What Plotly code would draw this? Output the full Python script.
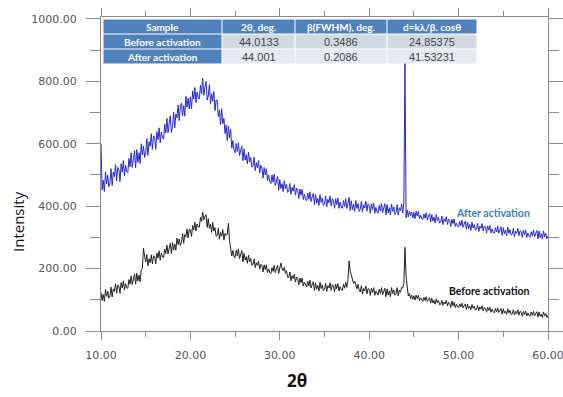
import numpy as np
import plotly.graph_objects as go

# 2-theta grid (0.125 deg step), intensity values
two_theta = np.round(np.arange(10.0, 60.001, 0.125), 3)

after_activation = [
    600, 452, 483, 447, 510, 472, 500, 462,   # 10
    475, 520, 466, 509, 494, 533, 481, 524,   # 11
    518, 479, 536, 509, 546, 497, 531, 511,   # 12
    507, 553, 526, 571, 524, 553, 578, 523,   # 13
    581, 540, 571, 537, 600, 564, 593, 556,   # 14
    570, 616, 563, 606, 592, 632, 582, 625,   # 15
    620, 582, 639, 613, 651, 603, 637, 618,   # 16
    615, 662, 635, 681, 635, 665, 690, 636,   # 17
    655, 702, 651, 695, 683, 724, 674, 719,   # 18
    730, 689, 722, 688, 752, 717, 746, 711,   # 19
    750, 712, 769, 743, 780, 732, 766, 747,   # 20
    743, 788, 760, 810, 755, 780, 800, 740,   # 21
    753, 789, 727, 760, 736, 767, 706, 740,   # 22
    740, 687, 707, 661, 712, 664, 681, 633,   # 23
    660, 610, 657, 619, 646, 586, 610, 579,   # 24
    571, 601, 575, 603, 562, 579, 592, 546,   # 25
    583, 548, 565, 535, 573, 542, 556, 525,   # 26
    530, 557, 514, 539, 523, 546, 506, 531,   # 27
    522, 490, 524, 500, 520, 481, 500, 480,   # 28
    472, 500, 477, 503, 466, 481, 495, 451,   # 29
    485, 456, 472, 447, 482, 456, 470, 444,   # 30
    449, 473, 438, 460, 448, 469, 435, 458,   # 31
    451, 424, 455, 435, 454, 421, 438, 423,   # 32
    417, 442, 422, 446, 415, 430, 441, 405,   # 33
    437, 409, 425, 402, 437, 412, 426, 402,   # 34
    407, 433, 398, 422, 411, 432, 400, 424,   # 35
    418, 393, 424, 405, 426, 393, 413, 397,   # 36
    393, 418, 399, 424, 393, 409, 428, 386,   # 37
    417, 389, 406, 383, 418, 393, 408, 383,   # 38
    389, 415, 381, 404, 394, 416, 384, 408,   # 39
    402, 377, 408, 389, 410, 377, 396, 381,   # 40
    377, 403, 384, 409, 379, 395, 408, 372,   # 41
    405, 378, 395, 372, 407, 383, 398, 374,   # 42
    379, 405, 371, 395, 385, 407, 378, 410,   # 43
    865, 362, 388, 366, 384, 370, 381, 362,   # 44
    380, 360, 384, 368, 383, 359, 371, 361,   # 45
    357, 375, 361, 379, 356, 368, 376, 349,   # 46
    373, 352, 365, 346, 373, 353, 364, 346,   # 47
    349, 368, 341, 359, 351, 366, 341, 358,   # 48
    355, 335, 358, 344, 359, 335, 346, 337,   # 49
    333, 351, 337, 355, 332, 343, 352, 325,   # 50
    349, 328, 341, 322, 349, 330, 341, 323,   # 51
    326, 345, 318, 336, 329, 344, 320, 337,   # 52
    333, 314, 337, 323, 338, 314, 327, 317,   # 53
    313, 331, 317, 337, 313, 324, 334, 306,   # 54
    331, 311, 323, 305, 333, 313, 325, 307,   # 55
    310, 329, 302, 320, 313, 329, 305, 322,   # 56
    319, 300, 323, 309, 324, 300, 314, 304,   # 57
    300, 318, 305, 324, 301, 313, 322, 295,   # 58
    320, 299, 312, 294, 321, 302, 313, 296,   # 59
    305,                                      # 60
]

before_activation = [
    123, 98, 117, 95, 133, 111, 128, 105,     # 10
    113, 141, 109, 135, 127, 151, 121, 147,   # 11
    144, 121, 155, 138, 161, 131, 152, 139,   # 12
    137, 165, 150, 177, 149, 167, 183, 150,   # 13
    185, 160, 179, 158, 196, 200, 265, 240,   # 14
    221, 245, 209, 231, 219, 244, 215, 241,   # 15
    238, 215, 250, 234, 257, 227, 249, 237,   # 16
    235, 263, 248, 275, 247, 265, 281, 248,   # 17
    283, 259, 279, 259, 298, 277, 295, 274,   # 18
    283, 312, 281, 309, 302, 327, 298, 326,   # 19
    324, 303, 338, 324, 349, 321, 343, 333,   # 20
    333, 364, 351, 381, 356, 366, 373, 332,   # 21
    360, 329, 342, 316, 348, 320, 331, 304,   # 22
    306, 330, 294, 316, 304, 325, 291, 313,   # 23
    306, 310, 345, 290, 255, 240, 258, 238,   # 24
    235, 259, 240, 263, 232, 246, 258, 221,   # 25
    249, 227, 238, 217, 243, 222, 232, 211,   # 26
    213, 231, 203, 219, 210, 224, 198, 214,   # 27
    209, 189, 212, 197, 212, 186, 199, 188,   # 28
    184, 203, 191, 210, 187, 200, 210, 184,   # 29
    208, 218, 200, 193, 204, 185, 193, 172,   # 30
    171, 189, 161, 177, 168, 182, 157, 173,   # 31
    168, 148, 170, 155, 170, 144, 157, 145,   # 32
    141, 159, 145, 163, 138, 149, 158, 130,   # 33
    154, 134, 146, 128, 156, 136, 148, 129,   # 34
    133, 153, 127, 145, 138, 154, 130, 148,   # 35
    145, 126, 150, 136, 152, 128, 142, 132,   # 36
    131, 150, 137, 156, 140, 165, 225, 192,   # 37
    175, 168, 152, 160, 148, 135, 150, 131,   # 38
    125, 145, 118, 136, 128, 144, 119, 136,   # 39
    133, 114, 137, 123, 139, 114, 128, 118,   # 40
    115, 134, 120, 139, 116, 127, 137, 110,   # 41
    135, 115, 128, 110, 139, 120, 132, 115,   # 42
    119, 139, 113, 131, 124, 140, 138, 150,   # 43
    268, 175, 140, 112, 120, 104, 115, 101,   # 44
    113, 99, 115, 104, 114, 97, 106, 98,      # 45
    95, 108, 98, 110, 94, 101, 107, 89,       # 46
    105, 90, 98, 86, 103, 90, 98, 84,         # 47
    86, 98, 82, 93, 87, 98, 80, 92,           # 48
    89, 75, 96, 81, 92, 75, 85, 77,           # 49
    74, 87, 77, 89, 74, 81, 87, 69,           # 50
    86, 72, 79, 68, 85, 73, 80, 67,           # 51
    69, 82, 65, 77, 70, 81, 64, 75,           # 52
    73, 60, 76, 66, 76, 60, 70, 62,           # 53
    58, 72, 61, 74, 59, 66, 72, 54,           # 54
    71, 57, 64, 53, 71, 58, 66, 53,           # 55
    55, 68, 51, 63, 56, 68, 51, 63,           # 56
    60, 47, 63, 53, 64, 48, 58, 50,           # 57
    47, 61, 50, 63, 48, 56, 62, 45,           # 58
    61, 47, 54, 43, 61, 48, 56, 43,           # 59
    50,                                       # 60
]

# Table contents
table_header = ["Sample", "2θ, deg.", "β(FWHM), deg.", "d=kλ/β. cosθ"]
table_samples = ["Before activation", "After activation"]
table_2theta = ["44.0133", "44.001"]
table_fwhm = ["0.3486", "0.2086"]
table_d = ["24.85375", "41.53231"]

x_ticks = [10, 20, 30, 40, 50, 60]
y_ticks = [0, 200, 400, 600, 800, 1000]

W, H = 563, 397
ML, MR, MT, MB = 101, 15, 17, 66
PW, PH = W - ML - MR, H - MT - MB


def px_to_paper_x(px):
    return (px - ML) / PW


def px_to_paper_y(py):
    return (H - MB - py) / PH


BLUE_HDR = "#4f81bd"
CELL1 = "#d3d9e3"
CELL2 = "#e6e9ef"

fig = go.Figure()

fig.add_trace(go.Scatter(
    x=two_theta, y=after_activation, mode="lines",
    line=dict(color="#2727d4", width=1), showlegend=False, hoverinfo="skip"))
fig.add_trace(go.Scatter(
    x=two_theta, y=before_activation, mode="lines",
    line=dict(color="#222222", width=1), showlegend=False, hoverinfo="skip"))

# ---- table drawn with shapes + annotations ----
col_edges = [103, 222, 295, 387, 477]
row_edges = [19, 34, 49, 64]
rows = [table_header] + [[table_samples[i], table_2theta[i], table_fwhm[i], table_d[i]]
                         for i in range(len(table_samples))]
for r, row in enumerate(rows):
    for c, txt in enumerate(row):
        x0, x1 = col_edges[c] + 0.5, col_edges[c + 1] - 0.5
        y0, y1 = row_edges[r] + 0.5, row_edges[r + 1] - 0.5
        if r == 0 or c == 0:
            fill = BLUE_HDR
            font = dict(family="Lato", size=10, color="white", weight="bold")
        else:
            fill = CELL1 if r == 1 else CELL2
            font = dict(family="Liberation Sans", size=11, color="#444444")
        fig.add_shape(type="rect", xref="paper", yref="paper",
                      x0=px_to_paper_x(x0), x1=px_to_paper_x(x1),
                      y0=px_to_paper_y(y1), y1=px_to_paper_y(y0),
                      fillcolor=fill, line=dict(width=0), layer="above")
        fig.add_annotation(xref="paper", yref="paper",
                           x=px_to_paper_x((x0 + x1) / 2), y=px_to_paper_y((y0 + y1) / 2),
                           text=txt, showarrow=False, font=font,
                           xanchor="center", yanchor="middle")

fig.add_annotation(x=53.85, y=378, xref="x", yref="y", text="After activation",
                   showarrow=False, xanchor="center", yanchor="middle",
                   font=dict(family="Lato", size=10.5, color="#3a7fc4", weight="bold"))
fig.add_annotation(x=53.5, y=128, xref="x", yref="y", text="Before activation",
                   showarrow=False, xanchor="center", yanchor="middle",
                   font=dict(family="Lato", size=10.5, color="#111111", weight="bold"))

fig.add_annotation(x=px_to_paper_x(18), y=px_to_paper_y(222), xref="paper", yref="paper",
                   text="Intensity", textangle=-90, showarrow=False,
                   xanchor="center", yanchor="middle",
                   font=dict(family="Open Sans", size=15, color="#111111"))
fig.add_annotation(x=px_to_paper_x(297), y=px_to_paper_y(380), xref="paper", yref="paper",
                   text="<b>2θ</b>", showarrow=False, xanchor="center", yanchor="middle",
                   font=dict(family="Open Sans", size=17, color="#111111"))

axis_common = dict(showgrid=False, zeroline=False, showline=True, linecolor="#8a8a8a",
                   linewidth=1, mirror="ticks", ticks="outside", tickcolor="#8a8a8a",
                   tickformat=".2f", automargin=False, ticklabeloverflow="allow",
                   tickfont=dict(family="DejaVu Sans", size=11, color="#555555"))

fig.update_xaxes(range=[10, 60], tickvals=x_ticks, ticklen=8, ticklabelstandoff=6,
                 minor=dict(ticks="outside", dtick=5, ticklen=5, tickcolor="#8a8a8a"),
                 **axis_common)
fig.update_yaxes(range=[0, 1006], tickvals=y_ticks, ticklen=14, ticklabelstandoff=7,
                 minor=dict(ticks="outside", dtick=100, ticklen=10, tickcolor="#8a8a8a"),
                 **axis_common)

fig.update_layout(width=W, height=H, margin=dict(l=ML, r=MR, t=MT, b=MB, autoexpand=False),
                  plot_bgcolor="white", paper_bgcolor="white")

fig.write_html("out.html", config={"displayModeBar": False},
               post_script="document.body.style.margin='0';document.body.style.overflow='hidden';")
